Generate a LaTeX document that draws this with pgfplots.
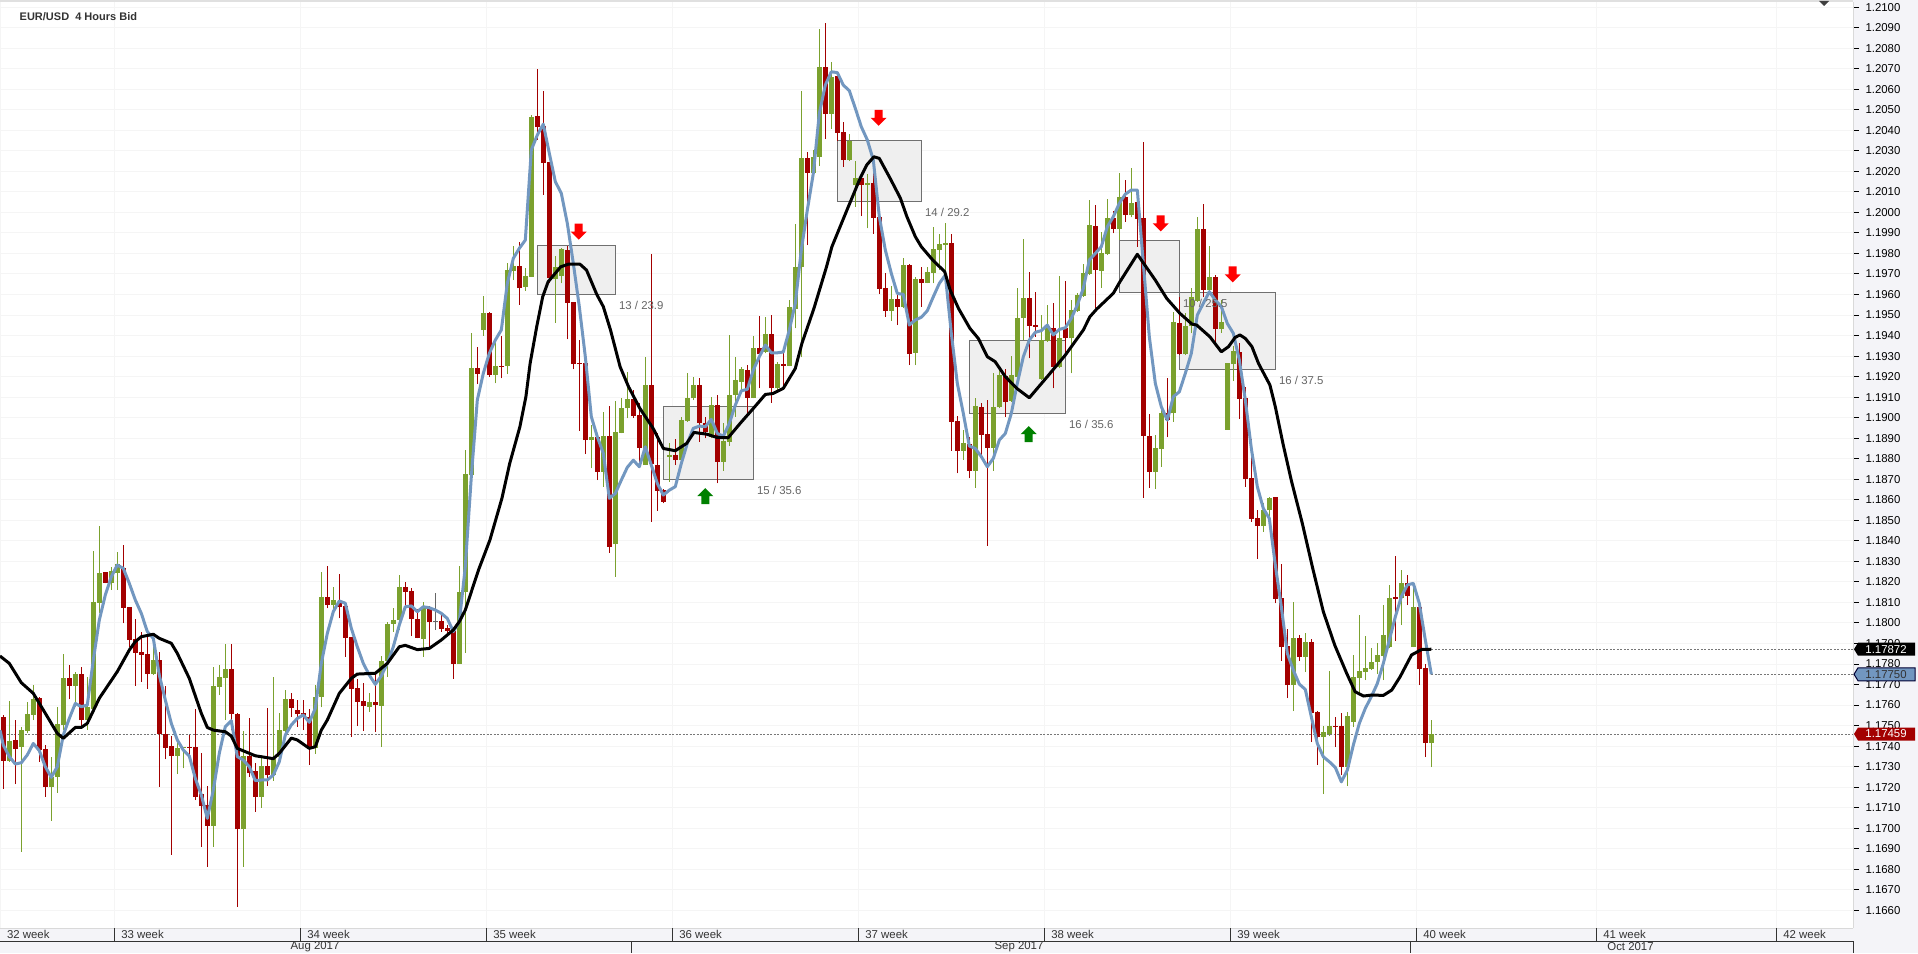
\documentclass[border=0pt]{standalone}
\usepackage{pgfplots}
\usepackage{pgfplotstable}
\usepackage{fontspec}
\setmainfont{Liberation Sans}
\pgfplotsset{compat=1.18}

\definecolor{candleup}{HTML}{7BA12E}
\definecolor{candledn}{HTML}{A30000}
\definecolor{maslow}{HTML}{000000}
\definecolor{mafast}{HTML}{7297C0}
\definecolor{panel}{HTML}{F4F4F8}
\definecolor{boxfill}{HTML}{EFEFEF}
\definecolor{boxline}{HTML}{707070}
\definecolor{gridc}{HTML}{F5F5F5}
\definecolor{dotc}{HTML}{777777}

\newcommand{\sz}{\fontsize{11.4}{13}\selectfont}

\pgfdeclareplotmark{arrdown}{%
  \pgfpathmoveto{\pgfqpoint{-4pt}{8pt}}\pgfpathlineto{\pgfqpoint{4pt}{8pt}}%
  \pgfpathlineto{\pgfqpoint{4pt}{0pt}}\pgfpathlineto{\pgfqpoint{8pt}{0pt}}%
  \pgfpathlineto{\pgfqpoint{0pt}{-8pt}}\pgfpathlineto{\pgfqpoint{-8pt}{0pt}}%
  \pgfpathlineto{\pgfqpoint{-4pt}{0pt}}\pgfpathclose\pgfusepathqfill}
\pgfdeclareplotmark{arrup}{%
  \pgfpathmoveto{\pgfqpoint{-4pt}{-8pt}}\pgfpathlineto{\pgfqpoint{4pt}{-8pt}}%
  \pgfpathlineto{\pgfqpoint{4pt}{0pt}}\pgfpathlineto{\pgfqpoint{8pt}{0pt}}%
  \pgfpathlineto{\pgfqpoint{0pt}{8pt}}\pgfpathlineto{\pgfqpoint{-8pt}{0pt}}%
  \pgfpathlineto{\pgfqpoint{-4pt}{0pt}}\pgfpathclose\pgfusepathqfill}

% i high top bottom low
\pgfplotstableread{
i h t b l
0 1.17552 1.17543 1.17329 1.17193
2 1.17527 1.17430 1.17386 1.17215
6 1.17641 1.17633 1.17381 1.17324
7 1.17405 1.17386 1.17202 1.17154
11 1.17795 1.17732 1.17694 1.17628
13 1.17787 1.17751 1.17527 1.17498
17 1.18248 1.18248 1.18196 1.18193
20 1.18380 1.18266 1.18074 1.17998
21 1.18079 1.18078 1.17917 1.17884
22 1.18018 1.17920 1.17855 1.17694
23 1.17958 1.17858 1.17844 1.17712
24 1.17941 1.17849 1.17751 1.17680
26 1.17858 1.17819 1.17459 1.17202
27 1.17693 1.17459 1.17392 1.17336
28 1.17449 1.17401 1.17353 1.16871
31 1.17454 1.17397 1.17392 1.17349
32 1.17579 1.17396 1.17154 1.17137
33 1.17365 1.17167 1.17108 1.16910
34 1.17206 1.17113 1.17012 1.16813
38 1.17897 1.17776 1.17556 1.17478
39 1.17560 1.17556 1.16994 1.16618
41 1.17535 1.17352 1.17267 1.17251
42 1.17316 1.17279 1.17154 1.17081
44 1.17584 1.17305 1.17259 1.17207
48 1.17660 1.17629 1.17587 1.17543
49 1.17625 1.17576 1.17556 1.17495
50 1.17625 1.17560 1.17543 1.17478
51 1.17579 1.17543 1.17389 1.17308
54 1.18277 1.18126 1.18087 1.18071
56 1.18238 1.18099 1.18079 1.18022
57 1.18104 1.18083 1.17928 1.17836
58 1.17932 1.17932 1.17680 1.17446
59 1.17725 1.17683 1.17615 1.17498
60 1.17706 1.17620 1.17595 1.17474
62 1.17755 1.17615 1.17602 1.17469
67 1.18199 1.18175 1.18152 1.18079
68 1.18169 1.18156 1.18019 1.17936
69 1.18066 1.18019 1.17927 1.17925
71 1.18083 1.18071 1.18006 1.17884
73 1.18039 1.18008 1.17971 1.17958
74 1.17990 1.17974 1.17962 1.17953
75 1.17974 1.17962 1.17802 1.17727
79 1.19346 1.19242 1.19212 1.19164
81 1.19516 1.19511 1.19208 1.19199
83 1.19398 1.19253 1.19247 1.19191
86 1.19856 1.19739 1.19631 1.19549
89 1.20698 1.20469 1.20417 1.20353
90 1.20591 1.20421 1.20242 1.20085
91 1.20245 1.20245 1.19682 1.19654
94 1.19836 1.19817 1.19560 1.19381
95 1.19565 1.19565 1.19261 1.19235
96 1.19378 1.19268 1.19261 1.18936
97 1.19264 1.19264 1.18891 1.18823
99 1.18923 1.18906 1.18737 1.18696
101 1.19057 1.18910 1.18371 1.18342
105 1.19135 1.19089 1.19008 1.18998
106 1.19070 1.19013 1.18854 1.18785
108 1.19797 1.19159 1.18772 1.18493
109 1.18923 1.18769 1.18644 1.18547
110 1.18651 1.18647 1.18590 1.18582
112 1.18896 1.18818 1.18793 1.18769
116 1.19191 1.19159 1.18975 1.18883
117 1.19005 1.18975 1.18932 1.18899
119 1.19110 1.19061 1.18785 1.18680
124 1.19256 1.19232 1.19097 1.19021
126 1.19495 1.19339 1.19310 1.19143
128 1.19498 1.19407 1.19143 1.19073
130 1.19321 1.19261 1.19253 1.19143
134 1.20294 1.20265 1.20193 1.19841
137 1.20921 1.20710 1.20481 1.20357
139 1.20669 1.20664 1.20388 1.20349
140 1.20439 1.20391 1.20255 1.20223
143 1.20190 1.20166 1.20133 1.19982
145 1.20271 1.20141 1.19974 1.19895
146 1.19979 1.19976 1.19627 1.19602
147 1.19703 1.19631 1.19521 1.19492
149 1.19597 1.19578 1.19541 1.19451
151 1.19748 1.19744 1.19310 1.19256
153 1.19732 1.19675 1.19658 1.19541
158 1.19895 1.19851 1.18980 1.18839
159 1.19008 1.18984 1.18839 1.18729
161 1.18907 1.18871 1.18742 1.18704
163 1.19070 1.19052 1.18917 1.18818
164 1.19086 1.18920 1.18854 1.18376
167 1.19237 1.19203 1.19078 1.19005
171 1.19708 1.19583 1.19448 1.19289
172 1.19612 1.19451 1.19443 1.19394
175 1.19558 1.19437 1.19248 1.19143
177 1.19664 1.19435 1.19386 1.19313
182 1.20036 1.19934 1.19719 1.19532
185 1.20008 1.19973 1.19921 1.19898
187 1.20158 1.20073 1.19987 1.19955
189 1.20109 1.20049 1.19969 1.19833
190 1.20341 1.19973 1.18912 1.18610
191 1.19018 1.18910 1.18737 1.18659
194 1.19193 1.19024 1.18988 1.18904
196 1.19589 1.19459 1.19308 1.19303
200 1.20041 1.19919 1.19622 1.19589
202 1.19695 1.19683 1.19432 1.19362
206 1.19362 1.19321 1.19091 1.18993
207 1.19148 1.19094 1.18701 1.18664
208 1.18894 1.18704 1.18506 1.18493
209 1.18550 1.18509 1.18472 1.18313
212 1.18613 1.18613 1.18118 1.18095
213 1.18287 1.18121 1.17882 1.17816
214 1.17969 1.17887 1.17697 1.17634
216 1.17941 1.17926 1.17834 1.17814
218 1.17921 1.17907 1.17561 1.17420
219 1.17571 1.17566 1.17446 1.17308
222 1.17541 1.17498 1.17493 1.17395
223 1.17561 1.17498 1.17298 1.17259
232 1.18326 1.18126 1.18116 1.17912
234 1.18233 1.18194 1.18131 1.18087
236 1.18087 1.18077 1.17775 1.17697
237 1.17800 1.17780 1.17415 1.17347
}\downcandles

\pgfplotstableread{
i h t b l
1 1.17620 1.17425 1.17329 1.17324
3 1.17495 1.17478 1.17397 1.16886
4 1.17616 1.17556 1.17475 1.17462
5 1.17698 1.17629 1.17552 1.17527
8 1.17349 1.17251 1.17202 1.17037
9 1.17589 1.17508 1.17251 1.17173
10 1.17849 1.17732 1.17503 1.17478
12 1.17763 1.17751 1.17694 1.17592
14 1.17738 1.17589 1.17527 1.17478
15 1.18351 1.18102 1.17582 1.17582
16 1.18472 1.18243 1.18099 1.18047
18 1.18274 1.18253 1.18196 1.18161
19 1.18347 1.18287 1.18245 1.18161
25 1.17933 1.17819 1.17751 1.17746
29 1.17430 1.17392 1.17353 1.17264
30 1.17397 1.17396 1.17391 1.17292
35 1.17784 1.17693 1.17012 1.16910
36 1.17795 1.17737 1.17690 1.17649
37 1.17897 1.17776 1.17733 1.17527
40 1.17474 1.17352 1.16994 1.16813
43 1.17349 1.17305 1.17154 1.17100
45 1.17738 1.17340 1.17259 1.17232
46 1.17560 1.17478 1.17349 1.17349
47 1.17673 1.17629 1.17475 1.17462
52 1.17698 1.17638 1.17389 1.17362
53 1.18250 1.18126 1.17641 1.17589
55 1.18174 1.18112 1.18087 1.18063
61 1.17660 1.17615 1.17591 1.17568
63 1.17839 1.17815 1.17597 1.17397
64 1.18006 1.17995 1.17815 1.17738
65 1.18071 1.18014 1.17995 1.17958
66 1.18234 1.18175 1.18014 1.17966
70 1.18100 1.18071 1.17922 1.17836
76 1.18277 1.18151 1.17802 1.17802
77 1.18842 1.18725 1.18151 1.17855
78 1.19411 1.19242 1.18720 1.18720
80 1.19592 1.19508 1.19427 1.19399
82 1.19378 1.19251 1.19208 1.19167
84 1.19752 1.19719 1.19251 1.19212
85 1.19836 1.19739 1.19716 1.19670
87 1.19727 1.19690 1.19638 1.19618
88 1.20474 1.20466 1.19687 1.19687
92 1.19787 1.19735 1.19674 1.19463
93 1.19825 1.19821 1.19690 1.19654
98 1.18964 1.18906 1.18891 1.18753
100 1.19029 1.18910 1.18737 1.18664
102 1.19083 1.18930 1.18384 1.18225
103 1.19094 1.19045 1.18927 1.18923
104 1.19224 1.19089 1.19045 1.18996
107 1.19297 1.19159 1.18769 1.18769
111 1.18875 1.18818 1.18810 1.18688
113 1.19005 1.18988 1.18793 1.18777
114 1.19219 1.19094 1.18985 1.18980
115 1.19199 1.19159 1.19094 1.19086
118 1.19102 1.19061 1.18907 1.18899
120 1.18972 1.18888 1.18785 1.18742
121 1.19402 1.19110 1.18883 1.18862
122 1.19297 1.19183 1.19110 1.19005
123 1.19248 1.19238 1.19175 1.19135
125 1.19398 1.19339 1.19097 1.19094
127 1.19492 1.19407 1.19321 1.19313
129 1.19273 1.19261 1.19143 1.19135
131 1.19573 1.19541 1.19251 1.19251
132 1.19943 1.19732 1.19528 1.19435
133 1.20591 1.20265 1.19735 1.19294
135 1.20304 1.20271 1.20193 1.20187
136 1.20893 1.20710 1.20271 1.20226
138 1.20734 1.20661 1.20481 1.20406
141 1.20382 1.20348 1.20255 1.20250
142 1.20250 1.20166 1.20133 1.20028
144 1.20187 1.20141 1.20135 1.19922
148 1.19641 1.19578 1.19521 1.19472
150 1.19776 1.19744 1.19541 1.19532
152 1.19687 1.19675 1.19316 1.19256
154 1.19735 1.19708 1.19658 1.19654
155 1.19930 1.19820 1.19706 1.19654
156 1.19895 1.19846 1.19817 1.19719
157 1.19947 1.19849 1.19841 1.19687
160 1.18940 1.18875 1.18839 1.18794
162 1.19094 1.19057 1.18742 1.18659
165 1.19216 1.19052 1.18854 1.18742
166 1.19240 1.19208 1.19050 1.19045
168 1.19300 1.19208 1.19083 1.19078
169 1.19632 1.19485 1.19200 1.19200
170 1.19870 1.19583 1.19485 1.19378
173 1.19500 1.19378 1.19187 1.19183
174 1.19549 1.19440 1.19375 1.19370
176 1.19690 1.19386 1.19245 1.19240
178 1.19573 1.19524 1.19386 1.19216
179 1.19606 1.19597 1.19521 1.19516
180 1.19748 1.19706 1.19593 1.19589
181 1.20060 1.19938 1.19700 1.19695
183 1.19906 1.19800 1.19716 1.19633
184 1.20065 1.19973 1.19797 1.19792
186 1.20190 1.20073 1.19921 1.19865
188 1.20215 1.20044 1.19987 1.19976
192 1.18915 1.18850 1.18737 1.18652
193 1.19045 1.19021 1.18847 1.18761
195 1.19516 1.19464 1.19021 1.18980
197 1.19508 1.19446 1.19308 1.19305
198 1.19630 1.19589 1.19446 1.19411
199 1.19976 1.19919 1.19570 1.19565
201 1.19836 1.19683 1.19622 1.19614
203 1.19573 1.19464 1.19432 1.19414
204 1.19264 1.19264 1.18940 1.18940
205 1.19349 1.19325 1.19261 1.19178
210 1.18582 1.18550 1.18472 1.18444
211 1.18615 1.18607 1.18550 1.18517
215 1.18102 1.17926 1.17697 1.17571
217 1.17951 1.17907 1.17834 1.17761
220 1.17498 1.17468 1.17444 1.17166
221 1.17766 1.17498 1.17459 1.17449
224 1.17566 1.17546 1.17298 1.17205
225 1.17844 1.17736 1.17517 1.17493
226 1.18038 1.17766 1.17731 1.17657
227 1.17936 1.17780 1.17761 1.17722
228 1.17878 1.17809 1.17775 1.17770
229 1.17902 1.17844 1.17809 1.17751
230 1.18087 1.17941 1.17839 1.17722
231 1.18185 1.18121 1.17882 1.17876
233 1.18258 1.18194 1.18121 1.17990
235 1.18176 1.18077 1.17882 1.17882
238 1.17527 1.17459 1.17415 1.17298
}\upcandles

\pgfplotstableread{
i h t b l
72 1.18144 1.18009 1.18006 1.17966
}\flatcandles

\pgfplotstableread{
i p
-0.55 1.17839
1 1.17803
3 1.17709
5 1.17657
7 1.17560
9 1.17462
10 1.17438
12 1.17491
13 1.17491
14 1.17511
16 1.17633
19 1.17763
21 1.17868
22 1.17909
23 1.17933
25 1.17945
26 1.17925
28 1.17901
29 1.17852
31 1.17730
33 1.17560
34 1.17491
35 1.17478
37 1.17470
38 1.17449
39 1.17389
42 1.17353
45 1.17339
46 1.17365
48 1.17439
49 1.17430
51 1.17389
52 1.17397
53 1.17478
54 1.17527
56 1.17657
58 1.17730
59 1.17751
62 1.17755
64 1.17803
66 1.17884
67 1.17891
69 1.17870
71 1.17876
73 1.17917
75 1.17966
76 1.18006
77 1.18063
79.2 1.18258
81.1 1.18404
83.1 1.18607
84.4 1.18777
86.1 1.18956
87.1 1.19102
87.8 1.19264
88.9 1.19443
89.9 1.19589
90.8 1.19662
92.9 1.19735
94.2 1.19748
96.1 1.19748
97.2 1.19719
98.9 1.19601
100 1.19541
101.2 1.19427
102.8 1.19248
104.2 1.19151
106.1 1.19045
108.3 1.18948
110 1.18850
112 1.18839
113.9 1.18875
115.1 1.18928
117.2 1.18920
118.9 1.18904
120.8 1.18902
122.8 1.18972
125 1.19045
127 1.19113
128.3 1.19118
130 1.19143
132 1.19240
133.1 1.19362
135.1 1.19532
137.2 1.19735
138.1 1.19833
140.6 1.20011
142.8 1.20166
143.9 1.20231
145.1 1.20271
146 1.20263
147.8 1.20166
149.5 1.20070
150.6 1.19979
152 1.19882
153 1.19833
154.9 1.19768
156.9 1.19711
157.8 1.19622
159.2 1.19532
161.1 1.19435
162.5 1.19386
164 1.19297
165.3 1.19273
167 1.19200
168.9 1.19143
171 1.19097
174 1.19200
177 1.19305
180 1.19427
181.1 1.19492
182.2 1.19528
185 1.19606
186.1 1.19662
189 1.19796
192 1.19670
193.9 1.19581
196.1 1.19508
198.1 1.19456
198.9 1.19451
201.1 1.19394
203 1.19321
204.2 1.19346
205.3 1.19391
206.1 1.19403
207 1.19386
208.1 1.19346
209.2 1.19264
211.1 1.19159
212 1.19053
213.3 1.18870
214.7 1.18690
216.5 1.18485
218.2 1.18270
220 1.18055
221.9 1.17892
223.9 1.17754
225.3 1.17665
226.7 1.17644
228.1 1.17649
230 1.17647
231.4 1.17673
232.8 1.17738
234.7 1.17844
236.4 1.17871
238 1.17872
}\slowma

\pgfplotstableread{
i p
-0.55 1.17478
0 1.17405
1 1.17349
2 1.17313
3 1.17319
4 1.17357
5 1.17413
6 1.17378
7 1.17300
8 1.17248
9 1.17300
10 1.17454
11 1.17535
12 1.17608
13 1.17592
14 1.17600
15 1.17819
16 1.18014
17 1.18136
18 1.18225
19 1.18282
20 1.18266
21 1.18193
22 1.18112
23 1.18047
24 1.17958
25 1.17925
26 1.17746
27 1.17625
28 1.17511
29 1.17430
30 1.17381
31 1.17352
32 1.17243
33 1.17162
34 1.17048
35 1.17186
36 1.17365
37 1.17495
38 1.17524
39 1.17349
40 1.17332
41 1.17300
42 1.17232
43 1.17235
44 1.17235
45 1.17259
46 1.17324
47 1.17454
48 1.17503
49 1.17535
50 1.17552
51 1.17516
52 1.17584
53 1.17803
54 1.17949
55 1.18055
56 1.18107
57 1.18096
58 1.17974
59 1.17884
60 1.17803
61 1.17746
62 1.17701
63 1.17742
64 1.17803
65 1.17884
66 1.17990
67 1.18079
68 1.18083
69 1.18055
70 1.18079
71 1.18074
72 1.18063
73 1.18047
74 1.18022
75 1.17958
76 1.18006
77 1.18274
78 1.18712
79 1.19086
80 1.19216
81 1.19313
82 1.19378
83 1.19427
84 1.19654
85 1.19776
86 1.19825
87 1.19865
88 1.20304
89 1.20377
90 1.20430
91 1.20288
92 1.20150
93 1.20093
94 1.19947
95 1.19752
96 1.19541
97 1.19297
98 1.19005
99 1.18907
100 1.18826
101 1.18607
102 1.18631
103 1.18696
104 1.18758
105 1.18793
106 1.18761
107 1.18858
108 1.18769
109 1.18680
110 1.18623
111 1.18647
112 1.18664
113 1.18777
114 1.18875
115 1.18948
116 1.18959
117 1.18956
118 1.18992
119 1.18923
120 1.18910
121 1.18972
122 1.19061
123 1.19131
124 1.19138
125 1.19232
126 1.19297
127 1.19354
128 1.19316
129 1.19316
130 1.19320
131 1.19427
132 1.19557
133 1.19817
134 1.20011
135 1.20190
136 1.20482
137 1.20620
138 1.20685
139 1.20681
140 1.20620
141 1.20593
142 1.20507
143 1.20417
144 1.20353
145 1.20255
146 1.19979
147 1.19817
148 1.19703
149 1.19605
150 1.19601
151 1.19451
152 1.19476
153 1.19489
154 1.19521
155 1.19589
156 1.19654
157 1.19695
158 1.19411
159 1.19167
160 1.19021
161 1.18862
162 1.18850
163 1.18810
164 1.18761
165 1.18802
166 1.18891
167 1.18923
168 1.19021
169 1.19167
170 1.19297
171 1.19378
172 1.19416
173 1.19424
174 1.19451
175 1.19403
176 1.19430
177 1.19438
178 1.19484
179 1.19549
180 1.19630
181 1.19768
182 1.19800
183 1.19833
184 1.19930
185 1.19979
186 1.20044
187 1.20089
188 1.20109
189 1.20109
190 1.19752
191 1.19394
192 1.19167
193 1.19053
194 1.18988
195 1.19102
196 1.19126
197 1.19216
198 1.19313
199 1.19500
200 1.19557
201 1.19614
202 1.19573
203 1.19541
204 1.19459
205 1.19411
206 1.19281
207 1.19086
208 1.18850
209 1.18664
210 1.18558
211 1.18509
212 1.18282
213 1.18079
214 1.17852
215 1.17770
216 1.17702
217 1.17676
218 1.17543
219 1.17413
220 1.17348
221 1.17324
222 1.17296
223 1.17226
224 1.17283
225 1.17405
226 1.17511
227 1.17584
228 1.17641
229 1.17705
230 1.17803
231 1.17917
232 1.18030
233 1.18128
234 1.18185
235 1.18193
236 1.18095
237 1.17917
238 1.17750
}\fastma

% x0 x1 ytop ybottom of one grey box each
\newcommand{\pricebox}[4]{%
  \addplot[fill=boxfill, draw=boxline, line width=1pt, forget plot]
    coordinates {(#1,#3) (#2,#3) (#2,#4) (#1,#4)} -- cycle;}

\newcommand{\candles}[3]{%
  \addplot[draw=none, no marks, forget plot,
    error bars/.cd, y dir=plus, y explicit, error mark=none,
    error bar style={draw=#2, line width=1pt}]
    table[x=i, y=l, y error plus expr=\thisrow{h}-\thisrow{l}] {#1};
  \addplot[draw=none, no marks, forget plot,
    error bars/.cd, y dir=plus, y explicit, error mark=none,
    error bar style={draw=#2, line width=#3}]
    table[x=i, y=b, y error plus expr=\thisrow{t}-\thisrow{b}] {#1};}

\begin{document}
\begin{tikzpicture}[x=1pt, y=1pt]
  \path[use as bounding box, fill=panel] (0,0) rectangle (1918,953);
  \fill[white] (0,25) rectangle (1853,951);
  \fill[black!12] (0,951) rectangle (1853,953);

  \begin{axis}[
    at={(0pt,25pt)}, anchor=south west,
    scale only axis, width=1853pt, height=926pt,
    xmin=-0.55, xmax=308.28,
    ymin=1.16514, ymax=1.21025,
    clip=false,
    axis background/.style={fill=white},
    axis line style={draw=black!15, line width=1pt},
    axis y line*=right, axis x line*=bottom,
    grid=major, grid style={draw=gridc, line width=1pt},
    ytick={1.166,1.167,1.168,1.169,1.170,1.171,1.172,1.173,1.174,1.175,1.176,1.177,1.178,1.179,1.180,
      1.181,1.182,1.183,1.184,1.185,1.186,1.187,1.188,1.189,1.190,1.191,1.192,1.193,1.194,1.195,1.196,
      1.197,1.198,1.199,1.200,1.201,1.202,1.203,1.204,1.205,1.206,1.207,1.208,1.209,1.210},
    yticklabel style={font=\sz, text=black, xshift=3pt,
      /pgf/number format/.cd, fixed, fixed zerofill, precision=4, assume math mode=true},
    scaled y ticks=false,
    xtick={-0.55,18.5,49.5,80.5,111.5,142.5,173.5,204.5,235.5,265.5,295.5},
    xticklabels={32 week,33 week,34 week,35 week,36 week,37 week,38 week,39 week,40 week,41 week,42 week},
    xticklabel style={font=\sz, anchor=north west, xshift=3.5pt, yshift=7pt, text=black!80},
    major tick length=6pt,
    y tick style={draw=black, line width=1pt},
    x tick style={draw=none},
    tick align=outside,
  ]
    % last-value guides
    \addplot[dotc, line width=1pt, dash pattern=on 2pt off 1.5pt, forget plot]
      coordinates {(-0.55,1.17459) (308.28,1.17459)};
    \addplot[dotc, line width=1pt, dash pattern=on 2pt off 1.5pt, forget plot]
      coordinates {(238,1.17872) (308.28,1.17872)};
    \addplot[dotc, line width=1pt, dash pattern=on 2pt off 1.5pt, forget plot]
      coordinates {(238,1.17750) (308.28,1.17750)};

    \pricebox{89}{102.06}{1.19839}{1.19601}
    \pricebox{110}{125.06}{1.19055}{1.18699}
    \pricebox{139}{153.06}{1.20348}{1.20054}
    \pricebox{161}{177}{1.19377}{1.19021}
    \pricebox{186}{196}{1.19864}{1.19610}
    \pricebox{196}{212.06}{1.19610}{1.19235}

    \candles{\downcandles}{candledn}{5.3pt}
    \candles{\upcandles}{candleup}{5.3pt}
    \candles{\flatcandles}{black!60}{5.3pt}

    \addplot[mafast, line width=3pt, line join=round, forget plot] table[x=i, y=p] {\fastma};
    \addplot[maslow, line width=3pt, line join=round, forget plot] table[x=i, y=p] {\slowma};

    \addplot[only marks, mark=arrdown, mark options={fill=red, draw=none}, forget plot]
      coordinates {(95.9,1.19906) (145.9,1.20461) (192.9,1.19947) (204.9,1.19698)};
    \addplot[only marks, mark=arrup, mark options={fill=black!50!green, draw=none}, forget plot]
      coordinates {(117,1.18618) (170.9,1.18920)};

    \node[anchor=west, inner sep=0pt, text=black!60, font=\sz] at (axis cs:102.6,1.19549) {13 / 23.9};
    \node[anchor=west, inner sep=0pt, text=black!60, font=\sz] at (axis cs:125.6,1.18647) {15 / 35.6};
    \node[anchor=west, inner sep=0pt, text=black!60, font=\sz] at (axis cs:153.6,1.20000) {14 / 29.2};
    \node[anchor=west, inner sep=0pt, text=black!60, font=\sz] at (axis cs:177.6,1.18969) {16 / 35.6};
    \node[anchor=west, inner sep=0pt, text=black!60, font=\sz] at (axis cs:196.6,1.19558) {10 / 25.5};
    \node[anchor=west, inner sep=0pt, text=black!60, font=\sz] at (axis cs:212.6,1.19182) {16 / 37.5};

    \coordinate (tagk) at (axis cs:308.28,1.17872);
    \coordinate (tagb) at (axis cs:308.28,1.17750);
    \coordinate (tagr) at (axis cs:308.28,1.17459);
  \end{axis}

  % week ticks and month band
  \foreach \xx in {114.3,300.3,486.3,672.3,858.3,1044.3,1230.3,1416.3,1596.3,1776.3}
    \draw[black!80, line width=1pt] (\xx,25) -- (\xx,12);
  \draw[black!80, line width=1pt] (0,12) -- (1853,12);
  \draw[black!80, line width=1pt] (631,12) -- (631,0);
  \draw[black!80, line width=1pt] (1410.4,12) -- (1410.4,0);
  \draw[black!80, line width=1pt] (1853,12) -- (1853,0);
  \node[font=\sz, text=black!80, inner sep=0pt] at (315,6) {Aug 2017};
  \node[font=\sz, text=black!80, inner sep=0pt] at (1019,6) {Sep 2017};
  \node[font=\sz, text=black!80, inner sep=0pt] at (1630.5,6) {Oct 2017};

  % header
  \node[anchor=west, inner sep=0pt, font=\fontsize{11}{12}\selectfont\bfseries, text=black!80]
    at (19.5,936) {EUR/USD\ \ 4 Hours Bid};
  \fill[black!75] (1819,952) -- (1829,952) -- (1824,947) -- cycle;

  % price tags on the scale
  \fill[black] (tagk) ++(1pt,0) -- ++(4pt,6.5pt) -- ++(57pt,0) -- ++(0,-13pt) -- ++(-57pt,0) -- cycle;
  \node[font=\sz, text=white, inner sep=0pt] at ([xshift=33pt]tagk) {1.17872};
  \filldraw[fill=mafast, draw=black!80!blue, line width=1pt]
    (tagb) ++(1pt,0) -- ++(4pt,6.5pt) -- ++(57pt,0) -- ++(0,-13pt) -- ++(-57pt,0) -- cycle;
  \node[font=\sz, text=black!80, inner sep=0pt] at ([xshift=33pt]tagb) {1.17750};
  \fill[candledn] (tagr) ++(1pt,0) -- ++(4pt,6.5pt) -- ++(57pt,0) -- ++(0,-13pt) -- ++(-57pt,0) -- cycle;
  \node[font=\sz, text=white, inner sep=0pt] at ([xshift=33pt]tagr) {1.17459};
\end{tikzpicture}
\end{document}
